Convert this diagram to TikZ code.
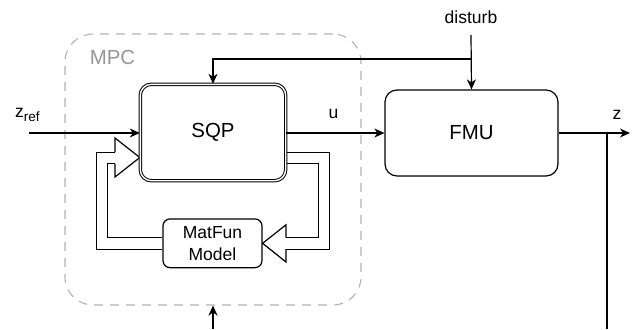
\documentclass[tikz,border=0pt]{standalone}
\usepackage{fontspec}
\setmainfont{Liberation Sans}
\usetikzlibrary{arrows.meta,backgrounds}

\definecolor{mpcline}{RGB}{178,178,178}
\definecolor{mpctext}{RGB}{150,150,150}

\newcommand{\subtxt}[1]{\raisebox{-4.5pt}{\fontsize{13.5}{14}\selectfont #1}}

\begin{document}
\begin{tikzpicture}[x=1pt,y=-1pt,line width=1.2pt,
  >={Stealth[length=10pt,width=9pt,inset=3pt]},
  block/.style={draw,rounded corners=11pt,inner sep=0pt,fill=white},
  lbl/.style={font=\fontsize{17.5}{21.7}\selectfont,inner sep=0pt},
  big/.style={font=\fontsize{20.4}{24}\selectfont},
  container/.style={draw=mpcline,dash pattern=on 9pt off 7pt,rounded corners=28pt,
    line width=1.1pt,inner sep=0pt},
  hollow/.style={double,double distance=10.4pt,line width=1.2pt,line join=miter},
  headline/.style={line width=1.2pt,line join=miter}]

\useasboundingbox (0,0) rectangle (644,329);

% controller frame
\node[container,minimum width=296pt,minimum height=271pt] (mpc) at (213,169.5) {};
\node[big,text=mpctext,inner sep=0pt] (mpclabel) at (112.5,57) {MPC};

% blocks
\node[block,big,double,double distance=1.4pt,line width=1pt,
      minimum width=145.4pt,minimum height=96.4pt] (sqp) at (213,132.5) {SQP};
\node[block,big,rounded corners=12pt,minimum width=173pt,minimum height=86pt] (fmu) at (471.5,133) {FMU};
\node[block,lbl,align=center,rounded corners=7pt,minimum width=99pt,minimum height=48.7pt]
      (mf) at (212.5,243.3) {MatFun\\Model};

% free ends
\coordinate (zin) at (29,133);
\coordinate (dtop) at (471,35);
\coordinate (br) at (471,59);
\coordinate (zout) at (630,133);
\coordinate (zj) at (607,133);
\coordinate (zdown) at (607,329);
\coordinate (fb) at (213,329);

% labels
\node[lbl,anchor=base west] (zreflabel) at (14.5,117) {z\subtxt{ref}};
\node[lbl] (ulabel) at (333.5,114) {u};
\node[lbl] (zlabel) at (617,115) {z};
\node[lbl] (dlabel) at (471,17.5) {disturb};

% signal lines
\draw[->] (zin) -- (zin -| sqp.west);
\draw[->] (sqp.east |- fmu.west) -- (fmu.west);
\draw[->] (fmu.east) -- (zout);
\draw (zj) -- (zdown);
\draw[->] (dtop) -- (fmu.north);
\draw[->] (br) -| (sqp.north);
\draw[->] (fb) -- (mpc.south);

% hollow data-flow arrows between SQP and the model
\begin{scope}[on background layer]
  \draw[hollow] (mf.west) -| (102,158) -- (115,158);
  \draw[headline] (115,152.2) -- (115,138) -- (sqp.west |- 0,157.5) -- (115,177) -- (115,163.8);
  \draw[hollow] (sqp.east |- 0,158) -| (324,243.3) -- (286,243.3);
  \draw[headline] (286,237.5) -- (286,224.8) -- (mf.east) -- (286,262) -- (286,249.1);
\end{scope}
\end{tikzpicture}
\end{document}
